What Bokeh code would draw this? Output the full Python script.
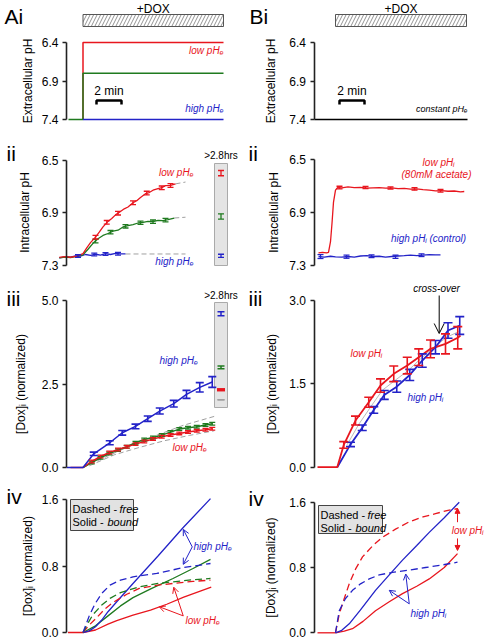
import math
from bokeh.plotting import figure
from bokeh.layouts import column, row
from bokeh.models import (Range1d, FixedTicker, PrintfTickFormatter, Label, Arrow,
                          OpenHead, NormalHead, TeeHead, Whisker, ColumnDataSource)
from bokeh.embed import file_html
from bokeh.resources import INLINE

RED = "#e8161e"; BLUE = "#2323c8"; GREEN = "#1f7a1f"; GREY = "#a0a0a0"
FONT = "Liberation Sans"

# ---------------- DATA ----------------
# (i) extracellular pH steps (time in min, DOX added at t=0)
ai_pre_t = [-1.16, 0.0]
ai_pre_pH = [7.4, 7.4]
ai_end_t = 11.24
ai_low_pHe = 6.4
ai_mid_pHe = 6.8
ai_high_pHe = 7.4
bi_t = [-1.68, 10.56]
bi_pH = [7.4, 7.4]
bi_dox_end = 10.48
ai_ticks = [6.4, 6.9, 7.4]

# (ii) intracellular pH, left
iiL_red_t = [-1.9, -1.5, -1.0, -0.5, 0.0, 0.3, 0.6, 1.0, 1.3, 1.6, 2.0, 2.3, 2.6, 3.0, 3.3,
             3.6, 4.0, 4.3, 4.6, 5.0, 5.3, 5.6, 6.0, 6.3, 6.6, 7.0, 7.4]
iiL_red_pH = [7.242, 7.236, 7.241, 7.232, 7.214, 7.17, 7.13, 7.088, 7.05, 7.01, 6.968, 6.945,
              6.918, 6.892, 6.872, 6.858, 6.826, 6.81, 6.785, 6.757, 6.748, 6.73, 6.718, 6.71,
              6.695, 6.694, 6.682]
iiL_red_eb_t = [1.0, 1.9, 2.8, 4.0, 5.1, 6.3, 7.0]
iiL_red_eb_v = [7.088, 6.975, 6.905, 6.826, 6.752, 6.712, 6.694]
iiL_red_eb_e = [0.014, 0.014, 0.014, 0.014, 0.014, 0.014, 0.014]
iiL_green_t = [-1.9, -1.4, -1.0, -0.5, 0.0, 0.4, 0.8, 1.2, 1.6, 2.0, 2.4, 2.8, 3.2, 3.6, 4.0,
               4.4, 4.8, 5.2, 5.6, 6.0, 6.4, 6.8, 7.3]
iiL_green_pH = [7.245, 7.24, 7.243, 7.235, 7.222, 7.18, 7.135, 7.1, 7.075, 7.06, 7.042, 7.035,
                7.01, 7.0, 6.992, 6.98, 6.975, 6.968, 6.97, 6.96, 6.962, 6.955, 6.942]
iiL_green_eb_t = [1.0, 2.2, 3.4, 4.6, 5.6, 6.6]
iiL_green_eb_v = [7.118, 7.05, 7.005, 6.978, 6.97, 6.958]
iiL_green_eb_e = [0.013, 0.013, 0.013, 0.013, 0.013, 0.013]
iiL_blue_t = [-1.9, -1.4, -1.0, -0.6, -0.2, 0.2, 0.6, 1.0, 1.4, 1.8, 2.2, 2.6, 3.0, 3.4]
iiL_blue_pH = [7.245, 7.238, 7.24, 7.23, 7.232, 7.22, 7.226, 7.218, 7.224, 7.214, 7.22, 7.212,
               7.216, 7.215]
iiL_blue_eb_t = [-0.4, 0.9, 1.8, 2.8]
iiL_blue_eb_v = [7.232, 7.22, 7.216, 7.214]
iiL_blue_eb_e = [0.01, 0.01, 0.01, 0.01]
iiL_red_ext_t = [7.4, 8.2]; iiL_red_ext_pH = [6.682, 6.668]
iiL_green_ext_t = [7.3, 8.2]; iiL_green_ext_pH = [6.942, 6.936]
iiL_blue_ext_t = [3.4, 8.2]; iiL_blue_ext_pH = [7.216, 7.216]
iiL_inset_pH = [6.60, 6.93, 7.23]          # low, mid, high pHe after >2.8 hrs
iiL_inset_err = [0.02, 0.02, 0.012]
ii_ticks = [6.5, 6.9, 7.3]

# (ii) intracellular pH, right
iiR_red_t = [-1.36, -1.04, -0.72, -0.56, -0.4, -0.28, -0.16, 0.0, 0.16, 0.5, 1.0, 1.5, 2.0, 2.5,
             3.0, 3.5, 4.0, 4.5, 5.0, 5.5, 6.0, 6.5, 7.0, 7.5, 8.0, 8.5, 9.0, 9.5, 10.0, 10.3]
iiR_red_pH = [7.204, 7.2, 7.205, 7.2, 7.12, 6.98, 6.82, 6.73, 6.71, 6.712, 6.705, 6.71, 6.708,
              6.715, 6.712, 6.71, 6.715, 6.713, 6.718, 6.716, 6.722, 6.72, 6.726, 6.73, 6.735,
              6.733, 6.738, 6.736, 6.742, 6.74]
iiR_red_eb_t = [0.32, 2.4, 4.4, 6.32, 8.4]
iiR_red_eb_v = [6.71, 6.71, 6.713, 6.72, 6.734]
iiR_red_eb_e = [0.01, 0.008, 0.008, 0.01, 0.01]
iiR_blue_t = [-1.36, -0.9, -0.4, 0.0, 0.5, 1.0, 1.5, 2.0, 2.5, 3.0, 3.5, 4.0, 4.5, 5.0, 5.5,
              6.0, 6.5, 7.0, 7.5, 8.0, 8.4]
iiR_blue_pH = [7.232, 7.236, 7.23, 7.234, 7.236, 7.232, 7.236, 7.228, 7.226, 7.232, 7.23,
               7.236, 7.232, 7.228, 7.226, 7.222, 7.225, 7.222, 7.218, 7.22, 7.219]
iiR_blue_eb_t = [-1.2, 0.88, 2.88, 4.8, 6.88]
iiR_blue_eb_v = [7.232, 7.233, 7.23, 7.234, 7.222]
iiR_blue_eb_e = [0.015, 0.012, 0.01, 0.012, 0.01]

# (iii) [Dox]i, left
iiiL_blue_t = [-1.3, 0.0, 0.86, 2.14, 3.14, 4.2, 5.18, 6.14, 7.26, 8.28, 9.34, 10.34]
iiiL_blue_v = [0.0, 0.0, 0.41, 0.74, 1.04, 1.23, 1.46, 1.69, 1.91, 2.19, 2.40, 2.56]
iiiL_blue_e = [0.0, 0.0, 0.05, 0.06, 0.07, 0.07, 0.08, 0.09, 0.1, 0.12, 0.14, 0.16]
iiiL_green_t = [0.0, 0.7, 1.4, 2.1, 2.8, 3.5, 4.2, 4.9, 5.6, 6.3, 7.0, 7.7, 8.4, 9.1, 9.8, 10.34]
iiiL_green_v = [0.0, 0.15, 0.29, 0.42, 0.52, 0.62, 0.74, 0.84, 0.9, 0.97, 1.06, 1.15, 1.19,
                1.22, 1.27, 1.31]
iiiL_red_t = [-1.0, 0.0, 0.7, 1.4, 2.1, 2.8, 3.5, 4.2, 4.9, 5.6, 6.3, 7.0, 7.7, 8.4, 9.1, 9.8,
              10.34]
iiiL_red_v = [0.0, 0.0, 0.18, 0.33, 0.45, 0.54, 0.62, 0.7, 0.78, 0.85, 0.92, 0.97, 1.02, 1.06,
              1.1, 1.13, 1.16]
iiiL_fit_hi_t = [0.0, 2.0, 4.0, 6.0, 8.0, 10.5]
iiiL_fit_hi_v = [0.0, 0.35, 0.68, 0.98, 1.26, 1.53]
iiiL_fit_lo_t = [0.5, 2.5, 4.5, 6.5, 8.5, 10.5]
iiiL_fit_lo_v = [0.05, 0.38, 0.6, 0.8, 0.96, 1.1]
iiiL_inset_v = [4.6, 3.0, 2.33, 2.03]      # high, mid, low, control
iiiL_inset_err = [0.06, 0.04, 0.0, 0.0]
iiiL_ticks = [0.0, 2.5, 5.0]

# (iii) [Dox]i, right
iiiR_red_t = [-1.44, 0.14, 0.66, 1.6, 2.66, 3.6, 4.66, 5.74, 6.66, 7.6, 8.8, 9.78, 10.0]
iiiR_red_v = [0.0, 0.0, 0.40, 0.84, 1.17, 1.47, 1.68, 1.83, 1.98, 2.13, 2.22, 2.33, 2.37]
iiiR_red_e = [0.0, 0.0, 0.06, 0.08, 0.09, 0.12, 0.14, 0.15, 0.15, 0.16, 0.18, 0.2, 0.0]
iiiR_blue_t = [0.14, 1.2, 2.14, 3.06, 3.9, 4.9, 5.94, 6.94, 8.0, 9.0, 9.94]
iiiR_blue_v = [0.0, 0.41, 0.71, 1.03, 1.30, 1.45, 1.66, 1.92, 2.16, 2.46, 2.55]
iiiR_blue_e = [0.0, 0.04, 0.05, 0.06, 0.08, 0.1, 0.1, 0.12, 0.12, 0.14, 0.16]
iiiR_ticks = [0.0, 1.5, 3.0]

# (iv) model, left
ivL_flat_t = [-1.2, 0.0]; ivL_flat_v = [0.0, 0.0]
ivL_blue_bound_t = [0.0, 0.5, 1.0, 1.5, 2.0, 2.7, 4.0, 6.0, 8.0, 10.2]
ivL_blue_bound_v = [0.0, 0.02, 0.07, 0.15, 0.25, 0.37, 0.59, 0.92, 1.26, 1.61]
ivL_blue_free_t = [0.0, 0.5, 0.96, 1.5, 2.16, 3.0, 4.0, 5.9, 8.0, 10.2]
ivL_blue_free_v = [0.0, 0.2, 0.345, 0.47, 0.57, 0.63, 0.67, 0.71, 0.78, 0.83]
ivL_green_bound_t = [0.0, 1.0, 2.0, 3.0, 4.0, 5.5, 7.2, 8.8, 10.2]
ivL_green_bound_v = [0.0, 0.08, 0.2, 0.32, 0.42, 0.53, 0.65, 0.77, 0.88]
ivL_green_free_t = [0.0, 0.5, 0.82, 1.5, 2.16, 3.0, 4.5, 6.0, 7.2, 8.8, 10.2]
ivL_green_free_v = [0.0, 0.14, 0.22, 0.33, 0.41, 0.48, 0.55, 0.59, 0.61, 0.635, 0.65]
ivL_red_free_t = [0.0, 0.5, 1.1, 1.8, 2.4, 3.5, 4.5, 6.0, 7.2, 8.8, 10.2]
ivL_red_free_v = [0.0, 0.09, 0.18, 0.29, 0.36, 0.46, 0.53, 0.57, 0.59, 0.615, 0.63]
ivL_red_bound_t = [0.0, 1.0, 2.0, 2.7, 4.0, 5.4, 6.7, 8.06, 10.26]
ivL_red_bound_v = [0.0, 0.03, 0.1, 0.144, 0.21, 0.27, 0.34, 0.425, 0.545]
iv_ticks = [0.0, 0.8, 1.6]

# (iv) model, right
ivR_flat_t = [-1.44, 0.0]; ivR_flat_v = [0.0, 0.0]
ivR_red_free_t = [0.0, 0.3, 0.7, 1.1, 1.6, 2.16, 3.0, 3.76, 4.8, 5.9, 7.0, 8.0, 9.0, 9.76]
ivR_red_free_v = [0.0, 0.23, 0.42, 0.6, 0.78, 0.93, 1.07, 1.17, 1.27, 1.36, 1.42, 1.46, 1.5, 1.52]
ivR_blue_free_t = [0.0, 0.3, 0.8, 1.36, 2.0, 2.7, 3.5, 4.56, 6.0, 7.2, 8.5, 9.76]
ivR_blue_free_v = [0.0, 0.27, 0.42, 0.52, 0.6, 0.66, 0.71, 0.74, 0.77, 0.80, 0.83, 0.865]
ivR_blue_bound_t = [0.0, 0.5, 1.1, 2.0, 3.2, 4.3, 5.36, 6.5, 7.5, 8.7, 9.9]
ivR_blue_bound_v = [0.0, 0.03, 0.11, 0.28, 0.52, 0.71, 0.89, 1.07, 1.23, 1.41, 1.6]
ivR_red_bound_t = [0.0, 0.7, 1.36, 2.2, 3.2, 4.3, 5.36, 6.5, 7.5, 8.7, 9.76]
ivR_red_bound_v = [0.0, 0.02, 0.05, 0.14, 0.27, 0.38, 0.48, 0.57, 0.66, 0.80, 0.97]


# ---------------- helpers ----------------
def make_panel(fig_x, fig_y, w, h, t0px, ppm, ya, yticks, axis_px):
    v1, p1, v2, p2 = ya
    X = lambda px: (px - t0px) / ppm
    Y = lambda py: v1 + (py - p1) * (v2 - v1) / (p2 - p1)
    p = figure(width=w, height=h, x_range=Range1d(X(fig_x), X(fig_x + w)),
               y_range=Range1d(Y(fig_y + h), Y(fig_y)),
               output_backend="svg", toolbar_location=None, x_axis_location=None,
               min_border=0, min_border_left=0, min_border_right=0, min_border_top=0,
               min_border_bottom=0)
    p.outline_line_color = None
    p.grid.visible = False
    ax = p.yaxis[0]
    ax.fixed_location = X(axis_px)
    ax.ticker = FixedTicker(ticks=yticks)
    ax.bounds = (min(yticks), max(yticks))
    ax.formatter = PrintfTickFormatter(format="%.1f")
    ax.axis_line_width = 1.6
    ax.axis_line_color = "#222222"
    ax.major_tick_line_width = 1.6
    ax.major_tick_line_color = "#222222"
    ax.major_tick_out = 4
    ax.major_tick_in = 0
    ax.minor_tick_out = 0
    ax.minor_tick_in = 0
    ax.major_label_standoff = 4
    ax.major_label_text_font = FONT
    ax.major_label_text_font_size = "12px"
    ax.major_label_text_color = "black"
    return p, X, Y


def lab(p, x, y, text, size=11, color="black", style="normal", align="left",
        baseline="middle", angle=0.0, x_offset=0):
    p.add_layout(Label(x=x, y=y, text=text, text_font=FONT, text_font_size=f"{size}px",
                       text_color=color, text_font_style=style, text_align=align,
                       text_baseline=baseline, angle=angle, x_offset=x_offset))


def whisk(p, t, v, e, color, size=6, width=1.3):
    src = ColumnDataSource(dict(base=t, upper=[a + b for a, b in zip(v, e)],
                                lower=[a - b for a, b in zip(v, e)]))
    p.add_layout(Whisker(source=src, base="base", upper="upper", lower="lower",
                         dimension="height", line_color=color, line_width=width,
                         level="overlay",
                         upper_head=TeeHead(size=size, line_color=color, line_width=width),
                         lower_head=TeeHead(size=size, line_color=color, line_width=width)))


def arrow(p, x0, y0, x1, y1, color, filled=False, size=6):
    head = (NormalHead(size=size, fill_color=color, line_color=color, line_width=1) if filled
            else OpenHead(size=size, line_color=color, line_width=1))
    p.add_layout(Arrow(x_start=x0, y_start=y0, x_end=x1, y_end=y1, end=head,
                       line_color=color, line_width=1))


def legend_box(p, X, Y, l, r, t, b, y1, y2):
    p.quad(left=[X(l)], right=[X(r)], top=[Y(t)], bottom=[Y(b)], fill_color="#e2e2e2",
           line_color="#444444", line_width=1)
    lab(p, X(l + 2), Y(y1), "Dashed -", 11)
    lab(p, X(l + 2), Y(y1), "free", 11, style="italic", x_offset=47)
    lab(p, X(l + 2), Y(y2), "Solid -", 11)
    lab(p, X(l + 2), Y(y2), "bound", 11, style="italic", x_offset=35)


W = 242
T0L, T0R, PPM = 82.5, 335.0, 12.5
AXL, AXR = 66, 313.5

# ---------------- Row i ----------------
pA, XA, YA = make_panel(0, 0, W, 128, T0L, PPM, (6.4, 42, 7.4, 119), ai_ticks, AXL)
pA.quad(left=[0.0], right=[ai_end_t], top=[YA(14)], bottom=[YA(26)], fill_color="white",
        line_color="#555555", line_width=1, hatch_pattern="/", hatch_color="#777777",
        hatch_scale=7, hatch_weight=0.8)
pA.line([0.0, 0.0, ai_end_t], [ai_high_pHe, ai_low_pHe, ai_low_pHe], line_color=RED, line_width=1.5)
pA.line(ai_pre_t + [0.0, ai_end_t], ai_pre_pH + [ai_mid_pHe, ai_mid_pHe], line_color=GREEN, line_width=1.5)
pA.line([0.0, ai_end_t], [ai_high_pHe, ai_high_pHe], line_color=BLUE, line_width=1.5)
sbx = XA(96)
pA.line([sbx, sbx, sbx + 2, sbx + 2], [YA(104), YA(100), YA(100), YA(104)], line_color="black", line_width=2.5)
lab(pA, sbx + 1, YA(90), "2 min", 12, align="center")
lab(pA, (0.0 + ai_end_t) / 2, YA(8), "+DOX", 12, align="center")
lab(pA, XA(223), YA(50), "low pHₑ", 10, RED, "italic", align="right")
lab(pA, XA(223), YA(108), "high pHₑ", 10, BLUE, "italic", align="right")
lab(pA, XA(4), YA(4), "Ai", 21, baseline="top")
lab(pA, XA(27), YA(80.5), "Extracellular pH", 12, align="center", angle=math.pi / 2)

pB, XB, YB = make_panel(W, 0, W, 128, T0R, PPM, (6.4, 42, 7.4, 119), ai_ticks, AXR)
pB.quad(left=[0.0], right=[bi_dox_end], top=[YB(14)], bottom=[YB(26)], fill_color="white",
        line_color="#555555", line_width=1, hatch_pattern="/", hatch_color="#777777",
        hatch_scale=7, hatch_weight=0.8)
pB.line(bi_t, bi_pH, line_color="black", line_width=1.5)
sbx = XB(339)
pB.line([sbx, sbx, sbx + 2, sbx + 2], [YB(104), YB(100), YB(100), YB(104)], line_color="black", line_width=2.5)
lab(pB, sbx + 1, YB(90), "2 min", 12, align="center")
lab(pB, bi_dox_end / 2, YB(8), "+DOX", 12, align="center")
lab(pB, XB(467), YB(108), "constant pHₑ", 9, "black", "italic", align="right")
lab(pB, XB(249), YB(4), "Bi", 21, baseline="top")
lab(pB, XB(270), YB(80.5), "Extracellular pH", 12, align="center", angle=math.pi / 2)

# ---------------- Row ii ----------------
pC, XC, YC = make_panel(0, 128, W, 144, T0L, PPM, (6.5, 159.5, 7.3, 264.5), ii_ticks, AXL)
for tt, vv in [(iiL_red_ext_t, iiL_red_ext_pH), (iiL_green_ext_t, iiL_green_ext_pH),
               (iiL_blue_ext_t, iiL_blue_ext_pH)]:
    pC.line(tt, vv, line_color=GREY, line_width=1, line_dash="5 3")
pC.line(iiL_blue_t, iiL_blue_pH, line_color=BLUE, line_width=1.3)
pC.line(iiL_green_t, iiL_green_pH, line_color=GREEN, line_width=1.3)
pC.line(iiL_red_t, iiL_red_pH, line_color=RED, line_width=1.3)
whisk(pC, iiL_blue_eb_t, iiL_blue_eb_v, iiL_blue_eb_e, BLUE, 6)
whisk(pC, iiL_green_eb_t, iiL_green_eb_v, iiL_green_eb_e, GREEN, 6)
whisk(pC, iiL_red_eb_t, iiL_red_eb_v, iiL_red_eb_e, RED, 6)
ins_l, ins_r = XC(214), XC(227)
pC.quad(left=[ins_l], right=[ins_r], top=[YC(163)], bottom=[YC(265)], fill_color="#e4e4e4",
        line_color="#aaaaaa", line_width=1)
ins_c = (ins_l + ins_r) / 2
whisk(pC, [ins_c], [iiL_inset_pH[0]], [iiL_inset_err[0]], RED, 6)
whisk(pC, [ins_c], [iiL_inset_pH[1]], [iiL_inset_err[1]], GREEN, 6)
whisk(pC, [ins_c], [iiL_inset_pH[2]], [iiL_inset_err[2]], BLUE, 6)
lab(pC, ins_c, YC(155), ">2.8hrs", 10, align="center")
lab(pC, XC(193), YC(172), "low pHₑ", 10, RED, "italic", align="right")
lab(pC, XC(193), YC(261), "high pHₑ", 10, BLUE, "italic", align="right")
lab(pC, XC(6), YC(141), "ii", 21, baseline="top")
lab(pC, XC(24), YC(212), "Intracellular pH", 12, align="center", angle=math.pi / 2)

pD, XD, YD = make_panel(W, 128, W, 144, T0R, PPM, (6.5, 159.3, 7.3, 265), ii_ticks, AXR)
pD.line(iiR_blue_t, iiR_blue_pH, line_color=BLUE, line_width=1.3)
pD.line(iiR_red_t, iiR_red_pH, line_color=RED, line_width=1.3)
whisk(pD, iiR_blue_eb_t, iiR_blue_eb_v, iiR_blue_eb_e, BLUE, 6)
whisk(pD, iiR_red_eb_t, iiR_red_eb_v, iiR_red_eb_e, RED, 6)
lab(pD, XD(438), YD(162), "low pHᵢ", 10, RED, "italic", align="center")
lab(pD, XD(436), YD(174), "(80mM acetate)", 10, RED, "italic", align="center")
lab(pD, XD(428), YD(238), "high pHᵢ (control)", 10, BLUE, "italic", align="center")
lab(pD, XD(248), YD(141), "ii", 21, baseline="top")
lab(pD, XD(273), YD(212), "Intracellular pH", 12, align="center", angle=math.pi / 2)

# ---------------- Row iii ----------------
pE, XE, YE = make_panel(0, 272, W, 206, T0L, PPM, (0.0, 467, 5.0, 300), iiiL_ticks, AXL)
pE.line(iiiL_fit_hi_t, iiiL_fit_hi_v, line_color=GREY, line_width=1, line_dash="5 3")
pE.line(iiiL_fit_lo_t, iiiL_fit_lo_v, line_color=GREY, line_width=1, line_dash="5 3")
pE.line(iiiL_green_t, iiiL_green_v, line_color=GREEN, line_width=1.5)
pE.line(iiiL_red_t, iiiL_red_v, line_color=RED, line_width=1.5)
pE.line(iiiL_blue_t, iiiL_blue_v, line_color=BLUE, line_width=1.5)
whisk(pE, iiiL_green_t[1:], iiiL_green_v[1:], [0.04] * (len(iiiL_green_t) - 1), GREEN, 6)
whisk(pE, iiiL_red_t[2:], iiiL_red_v[2:], [0.04] * (len(iiiL_red_t) - 2), RED, 6)
whisk(pE, iiiL_blue_t[2:], iiiL_blue_v[2:], iiiL_blue_e[2:], BLUE, 8, 1.6)
ins_l, ins_r = XE(214), XE(227)
pE.quad(left=[ins_l], right=[ins_r], top=[YE(302)], bottom=[YE(407)], fill_color="#e4e4e4",
        line_color="#aaaaaa", line_width=1)
ins_c = (ins_l + ins_r) / 2
whisk(pE, [ins_c], [iiiL_inset_v[0]], [iiiL_inset_err[0]], BLUE, 7, 1.5)
whisk(pE, [ins_c], [iiiL_inset_v[1]], [iiiL_inset_err[1]], GREEN, 7, 1.5)
whisk(pE, [ins_c], [iiiL_inset_v[2]], [iiiL_inset_err[2]], RED, 8, 3)
whisk(pE, [ins_c], [iiiL_inset_v[3]], [iiiL_inset_err[3]], GREY, 7, 1.5)
lab(pE, ins_c, YE(295), ">2.8hrs", 10, align="center")
lab(pE, XE(159), YE(360), "high pHₑ", 10, BLUE, "italic")
lab(pE, XE(172), YE(447), "low pHₑ", 10, RED, "italic")
lab(pE, XE(6), YE(286), "iii", 21, baseline="top")
lab(pE, XE(20), YE(383.5), "[Dox]ᵢ (normalized)", 12, align="center", angle=math.pi / 2)

pF, XF, YF = make_panel(W, 272, W, 206, T0R, PPM, (0.0, 466.7, 3.0, 300), iiiR_ticks, AXR)
pF.line([(a + b) / 2 for a, b in zip(iiiR_red_t[2:12], iiiR_blue_t[1:11])],
        [(a + b) / 2 for a, b in zip(iiiR_red_v[2:12], iiiR_blue_v[1:11])],
        line_color="#bbbbbb", line_width=1)
pF.line(iiiR_blue_t, iiiR_blue_v, line_color=BLUE, line_width=1.8)
pF.line(iiiR_red_t, iiiR_red_v, line_color=RED, line_width=1.8)
whisk(pF, iiiR_blue_t[1:], iiiR_blue_v[1:], iiiR_blue_e[1:], BLUE, 9, 1.6)
whisk(pF, iiiR_red_t[2:12], iiiR_red_v[2:12], iiiR_red_e[2:12], RED, 9, 1.6)
lab(pF, XF(436), YF(288), "cross-over", 10, "black", "italic", align="center")
arrow(pF, XF(438.7), YF(295), XF(438.7), YF(333), "black", size=10)
lab(pF, XF(350), YF(353), "low pHᵢ", 10, RED, "italic")
lab(pF, XF(407), YF(397), "high pHᵢ", 10, BLUE, "italic")
lab(pF, XF(248), YF(286), "iii", 21, baseline="top")
lab(pF, XF(271), YF(383.5), "[Dox]ᵢ (normalized)", 12, align="center", angle=math.pi / 2)

# ---------------- Row iv ----------------
pG, XG, YG = make_panel(0, 478, W, 161, T0L, PPM, (0.0, 632, 1.6, 499), iv_ticks, AXL)
pG.line(ivL_flat_t, ivL_flat_v, line_color=RED, line_width=1.3)
pG.line(ivL_red_bound_t, ivL_red_bound_v, line_color=RED, line_width=1.3)
pG.line(ivL_green_bound_t, ivL_green_bound_v, line_color=GREEN, line_width=1.3)
pG.line(ivL_blue_bound_t, ivL_blue_bound_v, line_color=BLUE, line_width=1.3)
pG.line(ivL_red_free_t, ivL_red_free_v, line_color=RED, line_width=1.3, line_dash="7 4")
pG.line(ivL_green_free_t, ivL_green_free_v, line_color=GREEN, line_width=1.3, line_dash="7 4")
pG.line(ivL_blue_free_t, ivL_blue_free_v, line_color=BLUE, line_width=1.3, line_dash="7 4")
legend_box(pG, XG, YG, 70, 133, 499, 530, 508, 521)
arrow(pG, 8.74, 1.03, 8.02, 1.24, BLUE)
arrow(pG, 8.74, 1.03, 8.02, 0.82, BLUE)
lab(pG, 8.84, 1.03, "high pHₑ", 10, BLUE, "italic")
arrow(pG, 8.02, 0.20, 7.26, 0.545, RED)
arrow(pG, 8.02, 0.20, 6.1, 0.31, RED)
lab(pG, 8.2, 0.15, "low pHₑ", 10, RED, "italic")
lab(pG, XG(6), YG(484), "iv", 21, baseline="top")
lab(pG, XG(27), YG(565.5), "[Dox]ᵢ (normalized)", 12, align="center", angle=math.pi / 2)

pH_, XH, YH = make_panel(W, 478, W, 161, T0R, PPM, (0.0, 632.3, 1.6, 501.7), iv_ticks, AXR)
pH_.line(ivR_flat_t, ivR_flat_v, line_color=RED, line_width=1.3)
pH_.line(ivR_red_bound_t, ivR_red_bound_v, line_color=RED, line_width=1.3)
pH_.line(ivR_blue_bound_t, ivR_blue_bound_v, line_color=BLUE, line_width=1.3)
pH_.line(ivR_red_free_t, ivR_red_free_v, line_color=RED, line_width=1.3, line_dash="7 4")
pH_.line(ivR_blue_free_t, ivR_blue_free_v, line_color=BLUE, line_width=1.3, line_dash="7 4")
legend_box(pH_, XH, YH, 318, 382, 505, 533, 514, 527)
arrow(pH_, 9.76, 1.355, 9.76, 1.525, RED, filled=True, size=5)
arrow(pH_, 9.76, 1.156, 9.76, 1.009, RED, filled=True, size=5)
lab(pH_, XH(483), 1.254, "low pHᵢ", 10, RED, "italic", align="right")
arrow(pH_, 5.9, 0.355, 4.3, 0.52, BLUE)
arrow(pH_, 5.9, 0.355, 5.62, 0.72, BLUE)
lab(pH_, 6.0, 0.24, "high pHᵢ", 10, BLUE, "italic")
lab(pH_, XH(248), YH(486), "iv", 21, baseline="top")
lab(pH_, XH(270), YH(567), "[Dox]ᵢ (normalized)", 12, align="center", angle=math.pi / 2)

layout = column(row(pA, pB), row(pC, pD), row(pE, pF), row(pG, pH_))
open("out.html", "w").write(file_html(layout, INLINE))
